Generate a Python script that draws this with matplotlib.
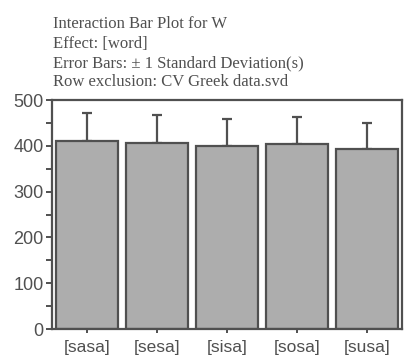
#!/usr/bin/env python3
"""Interaction bar plot of W by word, with +1 SD error bars."""

import matplotlib

matplotlib.use("Agg")
import matplotlib.pyplot as plt
from matplotlib.ticker import MultipleLocator

words = ["[sasa]", "[sesa]", "[sisa]", "[sosa]", "[susa]"]
means = [410, 406, 400, 404, 393]
sds = [61, 61, 58, 58, 58]

header_lines = [
    "Interaction Bar Plot for W",
    "Effect: [word]",
    "Error Bars: \u00b1 1 Standard Deviation(s)",
    "Row exclusion: CV Greek data.svd",
]

INK = "#505050"
BAR_FILL = "#adadad"


def main() -> None:
    fig = plt.figure(figsize=(4.04, 3.6), dpi=100)
    ax = fig.add_axes([0.129, 0.086, 0.866, 0.636])

    x = list(range(len(words)))
    ax.bar(x, means, width=0.88, color=BAR_FILL, edgecolor=INK, linewidth=1.6, zorder=2)
    ax.errorbar(
        x, means, yerr=[[0] * len(sds), sds], fmt="none",
        ecolor=INK, elinewidth=1.6, capsize=3.5, capthick=1.6, zorder=1,
    )

    ax.set_xlim(-0.5, len(words) - 0.5)
    ax.set_ylim(0, 500)
    ax.set_xticks(x)
    ax.set_xticklabels(words)
    ax.yaxis.set_major_locator(MultipleLocator(100))
    ax.yaxis.set_minor_locator(MultipleLocator(50))

    for spine in ax.spines.values():
        spine.set_color(INK)
        spine.set_linewidth(1.6)
    ax.tick_params(axis="y", which="both", direction="out", length=4, width=1.4,
                   color=INK, labelcolor=INK, labelsize=13, pad=2)
    ax.tick_params(axis="x", direction="out", length=3, width=1.4,
                   color=INK, labelcolor=INK, labelsize=12.5, pad=5)
    for label in ax.get_xticklabels() + ax.get_yticklabels():
        label.set_family("Liberation Sans")

    for i, line in enumerate(header_lines):
        fig.text(0.131, 1 - (24 + 19.5 * i) / 360, line, ha="left", va="center",
                 family="Liberation Serif", fontsize=12, color=INK)

    fig.savefig("out.png", dpi=100, facecolor="white")
    plt.close(fig)


if __name__ == "__main__":
    main()
